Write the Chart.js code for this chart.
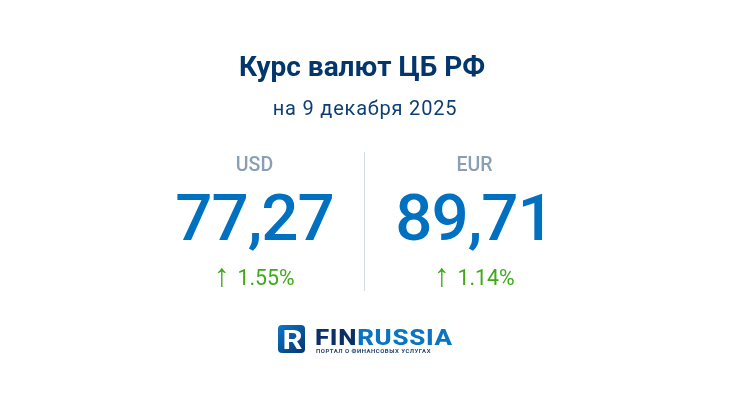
<!DOCTYPE html>
<html>
<head>
<meta charset="utf-8">
<style>
  html, body { margin: 0; padding: 0; background: #fff; }
  #wrap { width: 730px; height: 410px; }
</style>
<script src="https://cdn.jsdelivr.net/npm/chart.js@4"></script>
</head>
<body>
<div id="wrap"><canvas id="rates" width="730" height="410" role="img" aria-label="Курс валют ЦБ РФ на 9 декабря 2025"></canvas></div>
<script>
const currencies = ['USD', 'EUR'];
const rates = [77.27, 89.71];
const changes = [1.55, 1.14];
const titleText = 'Курс валют ЦБ РФ';
const subtitleText = 'на 9 декабря 2025';

function formatRate(v) {
  return v.toFixed(2).replace('.', ',');
}

function put(ctx, text, x, y, font, color, align) {
  ctx.font = font;
  ctx.fillStyle = color;
  ctx.textAlign = align || 'center';
  ctx.textBaseline = 'alphabetic';
  ctx.fillText(text, x, y);
}

// headings and the three lines of text under each currency
const cellsPlugin = {
  id: 'cells',
  afterDatasetsDraw(chart) {
    const { ctx, scales } = chart;
    ctx.save();
    put(ctx, titleText, 362, 76, '700 28px Roboto', '#03366b');
    ctx.letterSpacing = '0.8px';
    put(ctx, subtitleText, 365, 115, '400 20px Roboto', '#0d3f75');
    ctx.letterSpacing = '0px';
    currencies.forEach((cur, i) => {
      const x = scales.x.getPixelForValue(i);
      put(ctx, cur, x, 171, '500 19.5px Roboto', '#8a9eb5');
      ctx.letterSpacing = '-1px';
      put(ctx, formatRate(rates[i]), x, 240, '500 65.5px Roboto', '#0070c0');
      ctx.letterSpacing = '0px';
      put(ctx, '↑', x - 32.5, 286, '400 32px "Liberation Sans"', '#3fa91a');
      put(ctx, changes[i].toFixed(2) + '%', x + 11.5, 285, '400 21.3px Roboto', '#3fa91a');
    });
    ctx.restore();
  },
};

const logoPlugin = {
  id: 'logo',
  afterDraw(chart) {
    const ctx = chart.ctx;
    ctx.save();
    const g = ctx.createLinearGradient(278, 325, 305, 353);
    g.addColorStop(0, '#0a78cc');
    g.addColorStop(1, '#07346e');
    ctx.fillStyle = g;
    ctx.beginPath();
    ctx.roundRect(278, 325, 27, 28, 4);
    ctx.fill();
    // white R fills the square
    ctx.save();
    ctx.translate(282.5, 348.5);
    ctx.scale(1.2, 1);
    ctx.fillStyle = '#fff';
    ctx.font = '700 26px Roboto';
    ctx.textAlign = 'left';
    ctx.fillText('R', 0, 0);
    ctx.restore();

    ctx.textAlign = 'left';
    ctx.save();
    ctx.translate(315, 344.5);
    ctx.scale(1.15, 1);
    ctx.letterSpacing = '0.6px';
    ctx.font = '800 22.5px Roboto';
    ctx.fillStyle = '#0b2f66';
    ctx.fillText('FIN', 0, 0);
    const w = ctx.measureText('FIN').width;
    ctx.fillStyle = '#0a74c4';
    ctx.fillText('RUSSIA', w, 0);
    ctx.restore();
    ctx.letterSpacing = '0.5px';
    ctx.font = '700 6px Roboto';
    ctx.fillStyle = '#24466f';
    ctx.fillText('ПОРТАЛ О ФИНАНСОВЫХ УСЛУГАХ', 316, 353);
    ctx.restore();
  },
};

new Chart(document.getElementById('rates'), {
  type: 'line',
  data: {
    labels: currencies,
    datasets: [{ data: rates, showLine: false, pointRadius: 0 }],
  },
  options: {
    responsive: false,
    animation: false,
    layout: { padding: { left: 144.5, right: 145.5, top: 152, bottom: 119 } },
    scales: {
      x: {
        offset: true,
        border: { display: false },
        ticks: { display: false },
        grid: {
          offset: true,
          drawTicks: false,
          lineWidth: 1,
          color: ctx => (ctx.index === 1 ? '#d3dbe2' : 'transparent'),
        },
      },
      y: { display: false, min: 0, max: 100 },
    },
    plugins: {
      legend: { display: false },
      tooltip: { enabled: false },
    },
  },
  plugins: [cellsPlugin, logoPlugin],
});
</script>
</body>
</html>
